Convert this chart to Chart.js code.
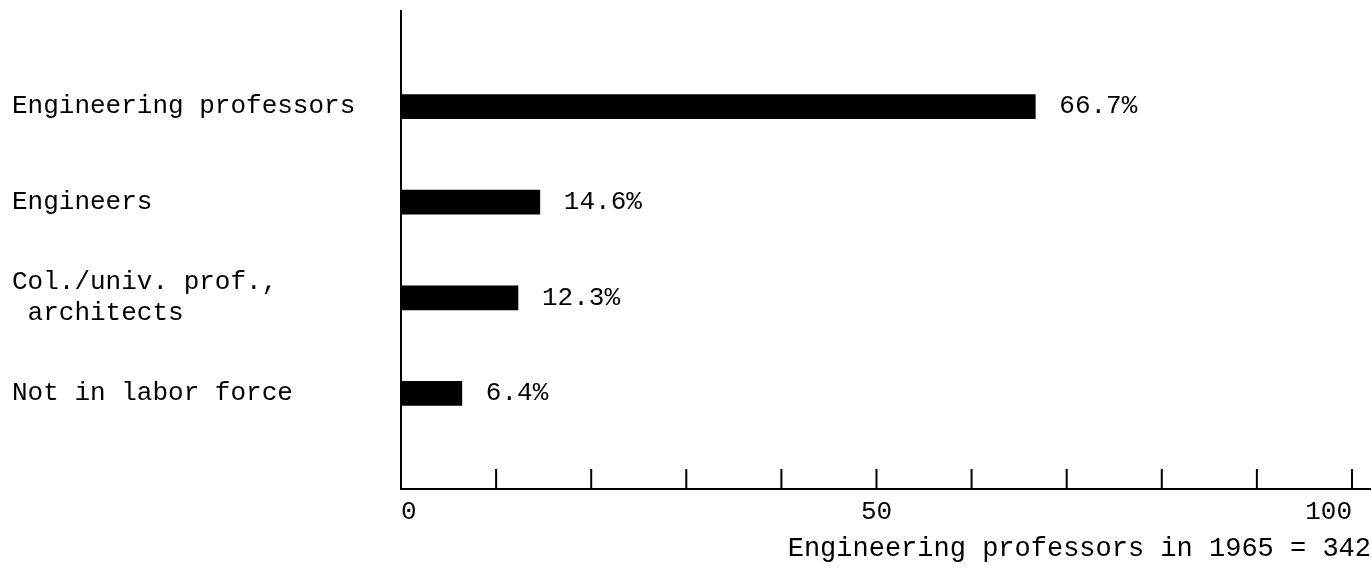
<!DOCTYPE html>
<html>
<head>
<meta charset="utf-8">
<script src="https://cdn.jsdelivr.net/npm/chart.js@4.4.0/dist/chart.umd.min.js"></script>
<style>
html, body { margin: 0; padding: 0; background: #fff; }
#wrap { width: 1371px; height: 571px; position: relative; }
</style>
</head>
<body>
<div id="wrap"><canvas id="chart"></canvas></div>
<script>
// empty slots at top and bottom keep the bars off the axis ends
const categories = ['', 'Engineering professors', 'Engineers', ['Col./univ. prof.,', ' architects'], 'Not in labor force', ''];
const percents = [null, 66.7, 14.6, 12.3, 6.4, null];
const tickMarks = [0, 10, 20, 30, 40, 50, 60, 70, 80, 90, 100];
const tickLabels = [0, 50, 100];
const axisTitle = 'Engineering professors in 1965 = 342';

Chart.defaults.font.family = '"Liberation Mono", "DejaVu Sans Mono", monospace';
Chart.defaults.font.size = 26;
Chart.defaults.color = '#000';

const extras = {
    id: 'extras',
    afterDraw(chart) {
        const ctx = chart.ctx;
        const x = chart.scales.x;
        const base = chart.chartArea.bottom;
        ctx.save();
        ctx.strokeStyle = '#000';
        ctx.lineWidth = 2;
        tickMarks.forEach(v => {
            const px = x.getPixelForValue(v);
            ctx.beginPath();
            ctx.moveTo(px, base);
            ctx.lineTo(px, base - 20);
            ctx.stroke();
        });
        ctx.fillStyle = '#000';
        ctx.font = '26px "Liberation Mono", monospace';
        ctx.textBaseline = 'middle';
        chart.getDatasetMeta(0).data.forEach((bar, i) => {
            if (percents[i] == null) return;
            ctx.fillText(percents[i].toFixed(1) + '%', bar.x + 24, bar.y);
        });
        ctx.restore();
    }
};

const ctx = document.getElementById('chart').getContext('2d');
const chart = new Chart(ctx, {
    type: 'bar',
    data: {
        labels: categories,
        datasets: [{
            data: percents,
            backgroundColor: '#000',
            barThickness: 24
        }]
    },
    options: {
        indexAxis: 'y',
        responsive: true,
        maintainAspectRatio: false,
        animation: false,
        layout: {
            padding: { left: 12, top: 11, right: 0, bottom: 0 }
        },
        scales: {
            x: {
                type: 'linear',
                min: 0,
                max: 102,
                afterBuildTicks: s => { s.ticks = tickLabels.map(v => ({ value: v })); },
                afterFit: s => { s.height = 82; },
                grid: { display: false },
                border: { display: true, color: '#000', width: 2 },
                ticks: { align: 'inner', padding: 0, maxRotation: 0 },
                title: {
                    display: true,
                    text: axisTitle,
                    align: 'end',
                    font: { size: 27 },
                    padding: { top: 0, bottom: 6 }
                }
            },
            y: {
                type: 'category',
                offset: false,
                afterFit: s => { s.width = 389; s.paddingTop = 0; s.paddingBottom = 0; },
                grid: { display: false },
                border: { display: true, color: '#000', width: 2 },
                ticks: { crossAlign: 'far', autoSkip: false }
            }
        },
        plugins: {
            legend: { display: false },
            tooltip: { enabled: false }
        }
    },
    plugins: [extras]
});
</script>
</body>
</html>
